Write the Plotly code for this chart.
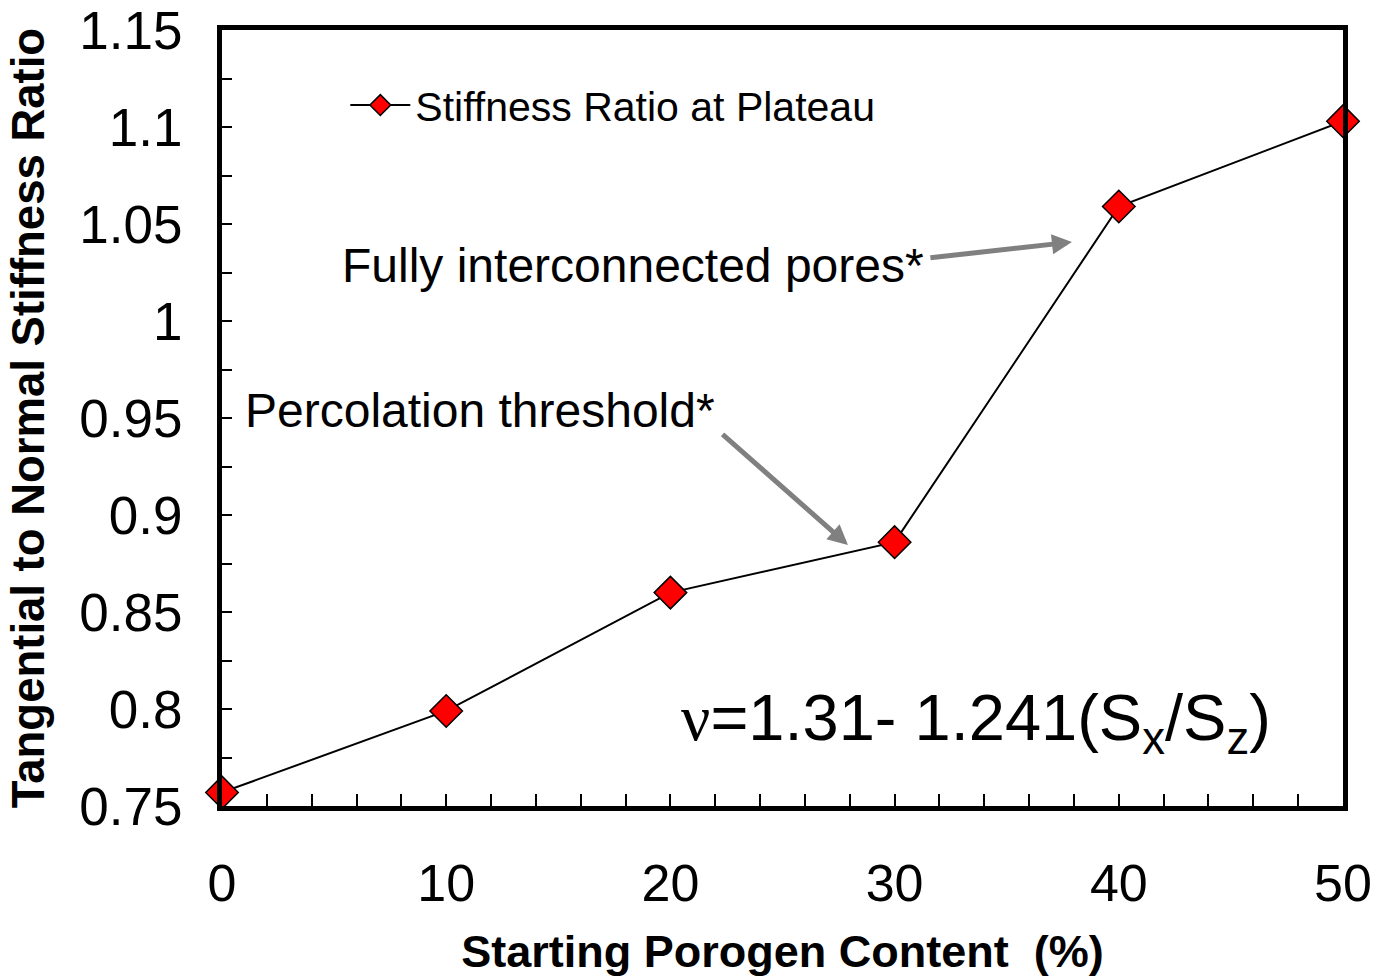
import plotly.graph_objects as go

# Starting porogen content (%) and stiffness ratio at plateau
porogen_content = [0, 10, 20, 30, 40, 50]
stiffness_ratio = [0.757, 0.799, 0.860, 0.886, 1.059, 1.103]

y_tick_values = [0.75, 0.8, 0.85, 0.9, 0.95, 1.0, 1.05, 1.1, 1.15]
y_tick_labels = ["0.75", "0.8", "0.85", "0.9", "0.95", "1", "1.05", "1.1", "1.15"]
x_tick_values = [0, 10, 20, 30, 40, 50]

FONT = "Liberation Sans, Arial, sans-serif"

fig = go.Figure()
fig.add_trace(go.Scatter(
    x=porogen_content,
    y=stiffness_ratio,
    mode="lines+markers",
    name="Stiffness Ratio at Plateau",
    line=dict(color="black", width=2),
    marker=dict(symbol="diamond", size=25, color="#ff0000",
                line=dict(color="black", width=1.5)),
    cliponaxis=False,
))

arrow_style = dict(showarrow=True, arrowcolor="#808080", arrowwidth=5,
                   arrowhead=2, arrowsize=0.8, text="",
                   xref="x", yref="y", axref="x", ayref="y")

fig.update_layout(
    width=1376, height=980,
    margin=dict(l=222, r=33, t=30, b=174, autoexpand=False),
    paper_bgcolor="white", plot_bgcolor="white",
    font=dict(family=FONT, color="black"),
    showlegend=True,
    legend=dict(x=0.11, y=0.946, xanchor="left", yanchor="top",
                itemwidth=60,
                font=dict(size=41, family=FONT), bgcolor="rgba(0,0,0,0)"),
    xaxis=dict(
        range=[0, 50], tickvals=x_tick_values, automargin=False,
        ticks="inside", ticklen=12, tickwidth=1.5, tickcolor="black",
        minor=dict(dtick=2, ticks="inside", ticklen=12, tickwidth=1.5, tickcolor="black"),
        showline=True, linewidth=5, linecolor="black", mirror=True,
        showgrid=False, zeroline=False,
        tickfont=dict(size=52, family=FONT), ticklabelstandoff=28,
        title=dict(text="<b>Starting Porogen Content  (%)</b>",
                   font=dict(size=45, family=FONT), standoff=26),
    ),
    yaxis=dict(
        range=[0.75, 1.15], tickvals=y_tick_values, ticktext=y_tick_labels,
        automargin=False,
        ticks="inside", ticklen=10, tickwidth=1.5, tickcolor="black",
        minor=dict(dtick=0.025, tick0=0.75, ticks="inside", ticklen=10, tickwidth=1.5, tickcolor="black"),
        showline=True, linewidth=5, linecolor="black", mirror=True,
        showgrid=False, zeroline=False,
        tickfont=dict(size=53, family=FONT), ticklabelstandoff=24,
        title=dict(text="<b>Tangential to Normal Stiffness Ratio</b>",
                   font=dict(size=45.5, family=FONT), standoff=22),
    ),
    annotations=[
        dict(text="Fully interconnected pores*", xref="paper", yref="paper",
             x=0.105, y=0.696, xanchor="left", yanchor="middle",
             showarrow=False, font=dict(size=48, family=FONT)),
        dict(text="Percolation threshold*", xref="paper", yref="paper",
             x=0.019, y=0.510, xanchor="left", yanchor="middle",
             showarrow=False, font=dict(size=48, family=FONT)),
        dict(text="<span style='font-family:Liberation Serif, Times New Roman, serif'>ν</span>"
                  "=1.31- 1.241(S<sub>x</sub>/S<sub>z</sub>)",
             xref="paper", yref="paper", x=0.408, y=0.108,
             xanchor="left", yanchor="middle",
             showarrow=False, font=dict(size=65, family=FONT)),
        dict(x=37.91, y=1.0407, ax=31.53, ay=1.0325, **arrow_style),
        dict(x=27.92, y=0.8845, ax=22.26, ay=0.9423, **arrow_style),
    ],
)

fig.write_html("out.html")
